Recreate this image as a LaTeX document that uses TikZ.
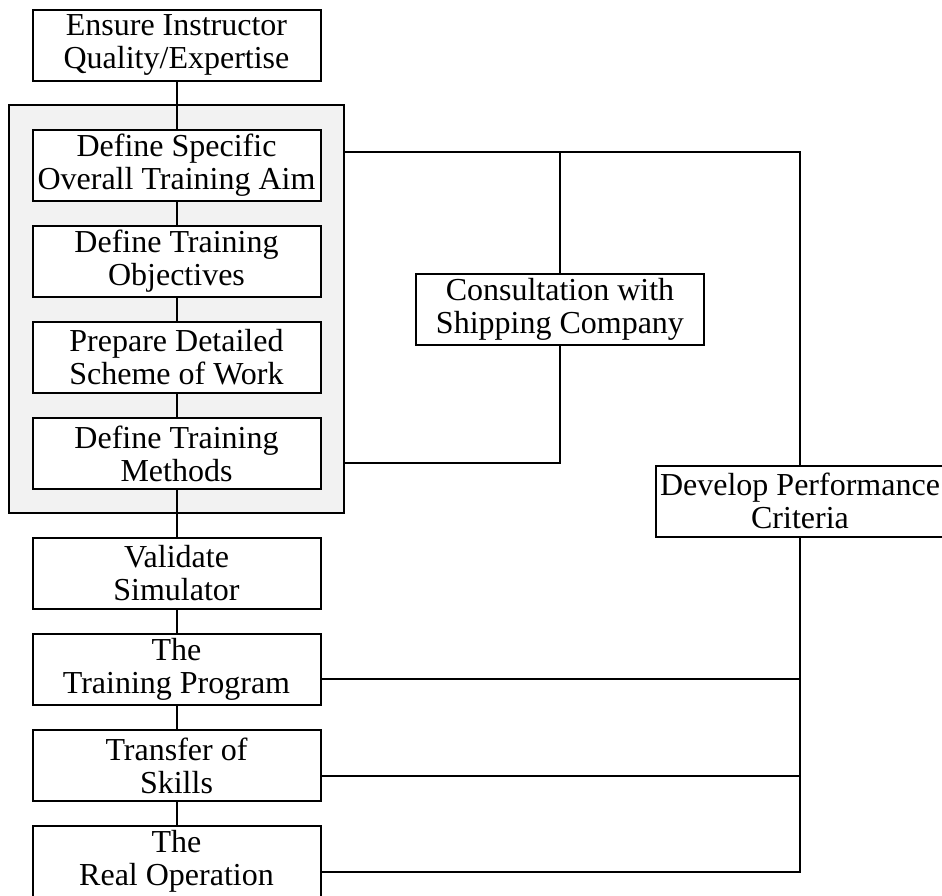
\documentclass[tikz,border=0pt]{standalone}
\usepackage{fontspec}
\setmainfont{Liberation Serif}
\usetikzlibrary{calc}
\definecolor{panelgray}{RGB}{242,242,242}
\begin{document}
\begin{tikzpicture}[x=1pt,y=1pt,
  box/.style={draw, line width=2pt, fill=white, minimum width=288pt, minimum height=71pt,
    inner sep=0pt, align=center, font=\fontsize{32}{33}\selectfont},
  conn/.style={draw, line width=2pt}]
\useasboundingbox (0,0) rectangle (942,-895);
\clip (0,0) rectangle (942,-895);
% grey panel
\node[draw, line width=2pt, fill=panelgray, minimum width=335pt, minimum height=408pt, inner sep=0pt]
  (panel) at (176.5,-309) {};
% left column
\node[box] (top) at (176.5,-45)    {Ensure Instructor\\Quality/Expertise};
\node[box] (dsa) at (176.5,-165)   {Define Specific\\Overall Training Aim};
\node[box] (dto) at (176.5,-261.5) {Define Training\\Objectives};
\node[box] (pds) at (176.5,-357.5) {Prepare Detailed\\Scheme of Work};
\node[box] (dtm) at (176.5,-453.5) {Define Training\\Methods};
\node[box] (vs)  at (176.5,-573)   {Validate\\Simulator};
\node[box] (tp)  at (176.5,-669)   {The\\Training Program};
\node[box] (ts)  at (176.5,-765.5) {Transfer of\\Skills};
\node[box] (ro)  at (176.5,-861.5) {The\\Real Operation};
% right nodes
\node[box] (csc) at (560,-309) {Consultation with\\Shipping Company};
\node[box] (dpc) at (800,-501) {Develop Performance\\Criteria};
% vertical chain
\draw[conn] (top.south) -- (dsa.north);
\draw[conn] (dsa.south) -- (dto.north);
\draw[conn] (dto.south) -- (pds.north);
\draw[conn] (pds.south) -- (dtm.north);
\draw[conn] (dtm.south) -- (vs.north);
\draw[conn] (vs.south) -- (tp.north);
\draw[conn] (tp.south) -- (ts.north);
\draw[conn] (ts.south) -- (ro.north);
% top junctions
\coordinate (pt) at ([yshift=157pt]panel.east);
\coordinate (pb) at ([yshift=-154pt]panel.east);
\draw[conn] (pt) -- (pt -| dpc.north) -- (dpc.north);
\draw[conn] (pt -| csc.north) -- (csc.north);
\draw[conn] (csc.south) |- (pb);
% performance criteria links
\coordinate (tpr) at ([yshift=-10pt]tp.east);
\coordinate (tsr) at ([yshift=-10.5pt]ts.east);
\coordinate (ror) at ([yshift=-10.5pt]ro.east);
\draw[conn] (dpc.south) |- (ror);
\draw[conn] (tpr) -- (tpr -| dpc.south);
\draw[conn] (tsr) -- (tsr -| dpc.south);
\end{tikzpicture}
\end{document}
